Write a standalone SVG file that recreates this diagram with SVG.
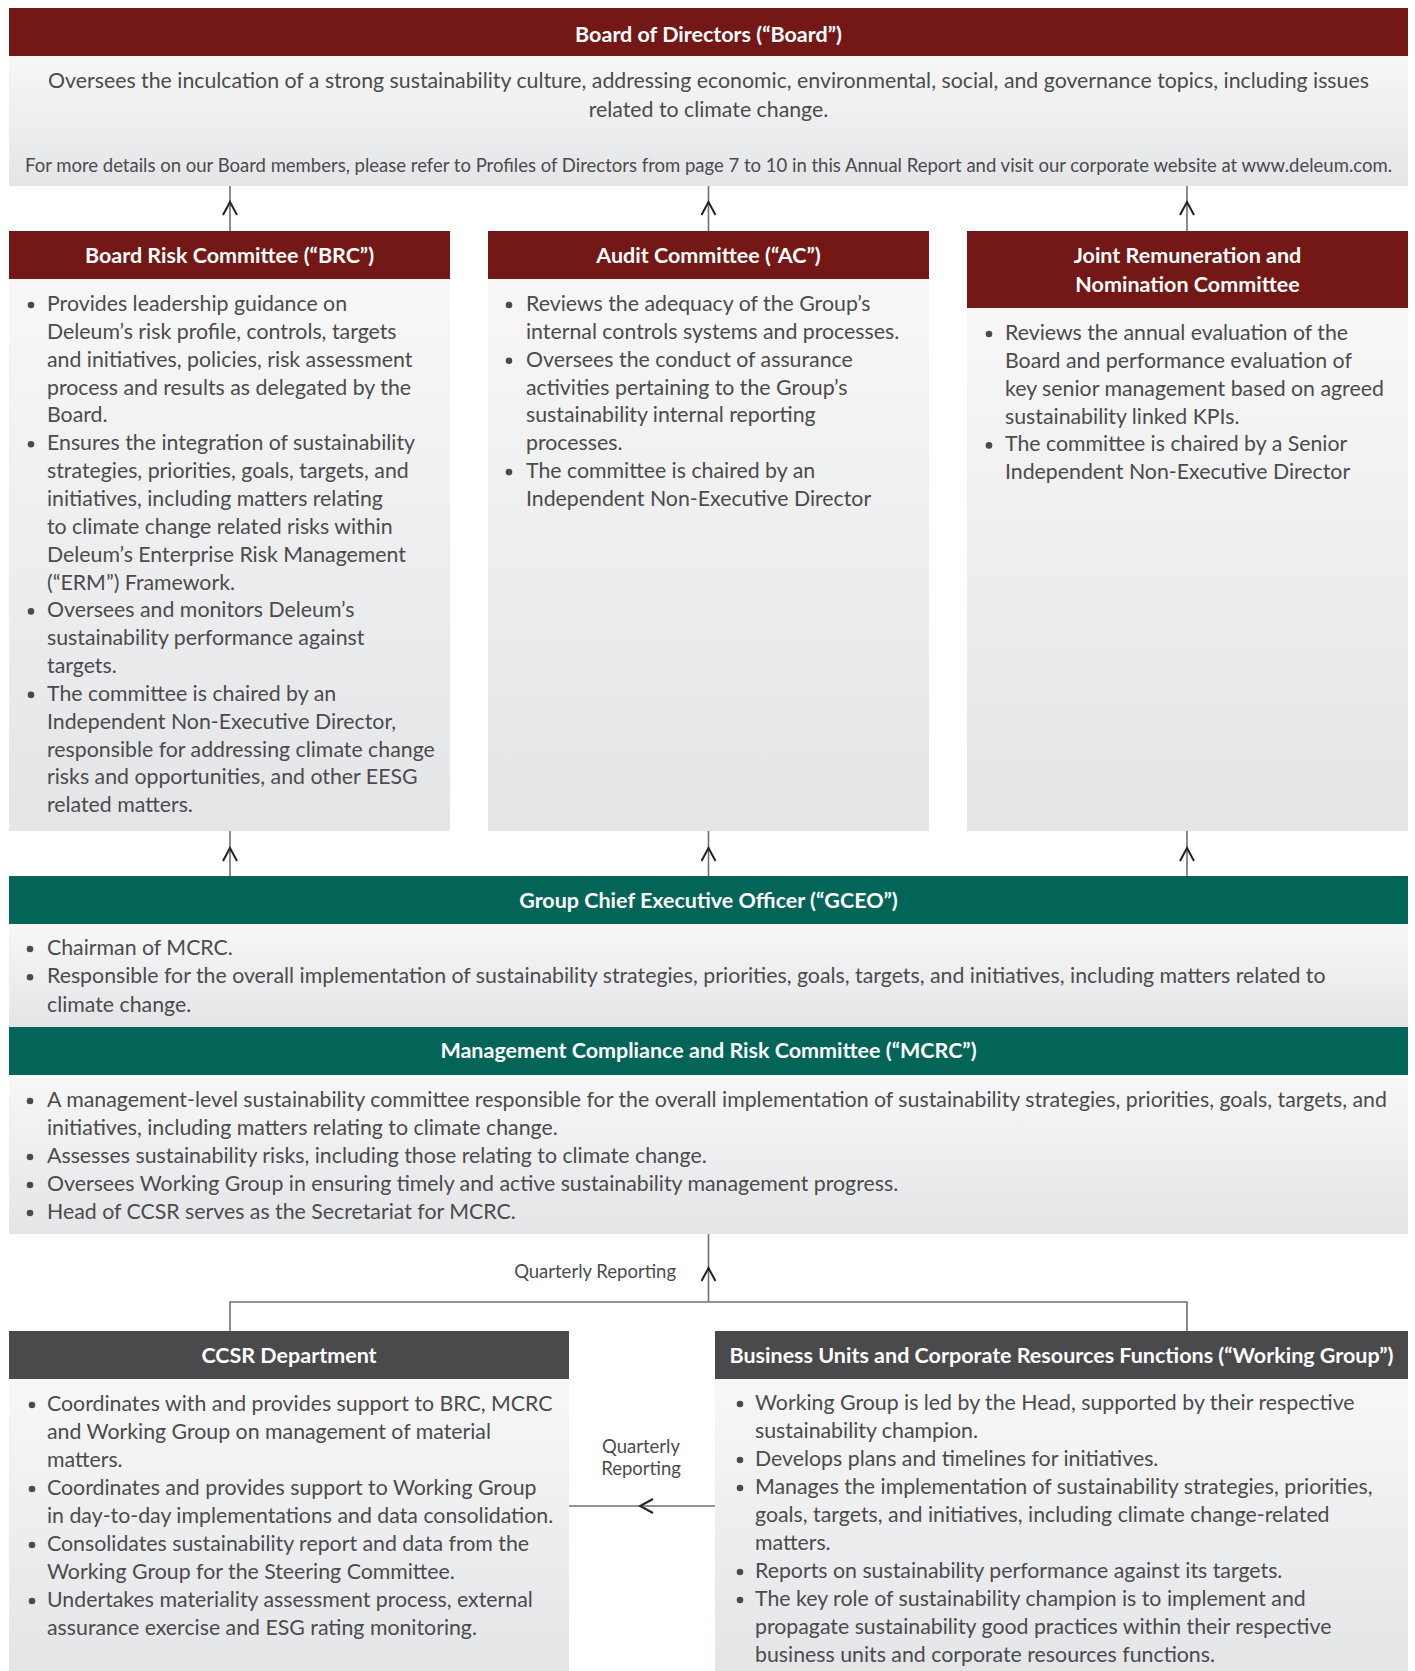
<svg xmlns="http://www.w3.org/2000/svg" width="1415" height="1671" viewBox="0 0 1415 1671">
<defs>
<linearGradient id="bg" x1="0" y1="0" x2="0" y2="1">
<stop offset="0" stop-color="#f7f7f7"/>
<stop offset="1" stop-color="#e4e5e7"/>
</linearGradient>
<marker id="chev" viewBox="-16 -8 18 16" markerWidth="18" markerHeight="16" refX="-6" refY="0" orient="auto" markerUnits="userSpaceOnUse">
<path d="M-13,-7 L0,0 L-13,7" fill="none" stroke="#222" stroke-width="2"/>
</marker>
</defs>
<style>
.body{fill:url(#bg)}
.red{fill:#731816}
.teal{fill:#036458}
.dark{fill:#4a4a4c}
.h{font-family:Lato,"Noto Sans",sans-serif;font-weight:bold;font-size:21.5px;fill:#fff;text-anchor:middle}
.t{font-family:Lato,"Noto Sans",sans-serif;font-size:21.3px;fill:#4b4b4d}
.s{font-family:Lato,"Noto Sans",sans-serif;font-size:18.5px;fill:#4b4b4d}
.c{text-anchor:middle}
.b{fill:#4b4b4d}
.ln{fill:none;stroke:#707070;stroke-width:1.6}
</style>
<rect width="1415" height="1671" fill="#fff"/>

<g id="connectors">
<path class="ln" d="M230,231 L230,208 L230,186" marker-mid="url(#chev)"/>
<path class="ln" d="M708.5,231 L708.5,208 L708.5,186" marker-mid="url(#chev)"/>
<path class="ln" d="M1187,231 L1187,208 L1187,186" marker-mid="url(#chev)"/>
<path class="ln" d="M230,876 L230,854 L230,831" marker-mid="url(#chev)"/>
<path class="ln" d="M708.5,876 L708.5,854 L708.5,831" marker-mid="url(#chev)"/>
<path class="ln" d="M1187,876 L1187,854 L1187,831" marker-mid="url(#chev)"/>
<path class="ln" d="M230,1331 L230,1302 L1187,1302 L1187,1331"/>
<path class="ln" d="M708.5,1302 L708.5,1274 L708.5,1234" marker-mid="url(#chev)"/>
<path class="ln" d="M715,1506 L646,1506 L569,1506" marker-mid="url(#chev)"/>
<text class="s" x="676" y="1278" text-anchor="end">Quarterly Reporting</text>
<text class="s c" x="641" y="1453">Quarterly</text>
<text class="s c" x="641" y="1475">Reporting</text>
</g>

<g id="board">
<rect class="red" x="9" y="8" width="1399" height="48"/>
<rect class="body" x="9" y="56" width="1399" height="130"/>
<text class="h" x="708.5" y="42">Board of Directors (“Board”)</text>
<text class="t c" x="708.5" y="88">Oversees the inculcation of a strong sustainability culture, addressing economic, environmental, social, and governance topics, including issues</text>
<text class="t c" x="708.5" y="117">related to climate change.</text>
<text class="s c" x="708.5" y="172">For more details on our Board members, please refer to Profiles of Directors from page 7 to 10 in this Annual Report and visit our corporate website at www.deleum.com.</text>
</g>

<g id="brc">
<rect class="red" x="9" y="231" width="441" height="48"/>
<rect class="body" x="9" y="279" width="441" height="552"/>
<text class="h" x="229.5" y="263">Board Risk Committee (“BRC”)</text>
<g class="b">
<circle cx="31" cy="305" r="3.3"/><circle cx="31" cy="444.3" r="3.3"/><circle cx="31" cy="611.4" r="3.3"/><circle cx="31" cy="694.9" r="3.3"/>
</g>
<text class="t">
<tspan x="47" y="311">Provides leadership guidance on</tspan>
<tspan x="47" dy="27.85">Deleum’s risk profile, controls, targets</tspan>
<tspan x="47" dy="27.85">and initiatives, policies, risk assessment</tspan>
<tspan x="47" dy="27.85">process and results as delegated by the</tspan>
<tspan x="47" dy="27.85">Board.</tspan>
<tspan x="47" dy="27.85">Ensures the integration of sustainability</tspan>
<tspan x="47" dy="27.85">strategies, priorities, goals, targets, and</tspan>
<tspan x="47" dy="27.85">initiatives, including matters relating</tspan>
<tspan x="47" dy="27.85">to climate change related risks within</tspan>
<tspan x="47" dy="27.85">Deleum’s Enterprise Risk Management</tspan>
<tspan x="47" dy="27.85">(“ERM”) Framework.</tspan>
<tspan x="47" dy="27.85">Oversees and monitors Deleum’s</tspan>
<tspan x="47" dy="27.85">sustainability performance against</tspan>
<tspan x="47" dy="27.85">targets.</tspan>
<tspan x="47" dy="27.85">The committee is chaired by an</tspan>
<tspan x="47" dy="27.85">Independent Non-Executive Director,</tspan>
<tspan x="47" dy="27.85">responsible for addressing climate change</tspan>
<tspan x="47" dy="27.85">risks and opportunities, and other EESG</tspan>
<tspan x="47" dy="27.85">related matters.</tspan>
</text>
</g>

<g id="ac">
<rect class="red" x="488" y="231" width="441" height="48"/>
<rect class="body" x="488" y="279" width="441" height="552"/>
<text class="h" x="708.5" y="263">Audit Committee (“AC”)</text>
<g class="b">
<circle cx="509" cy="305" r="3.3"/><circle cx="509" cy="360.7" r="3.3"/><circle cx="509" cy="472.1" r="3.3"/>
</g>
<text class="t">
<tspan x="526" y="311">Reviews the adequacy of the Group’s</tspan>
<tspan x="526" dy="27.85">internal controls systems and processes.</tspan>
<tspan x="526" dy="27.85">Oversees the conduct of assurance</tspan>
<tspan x="526" dy="27.85">activities pertaining to the Group’s</tspan>
<tspan x="526" dy="27.85">sustainability internal reporting</tspan>
<tspan x="526" dy="27.85">processes.</tspan>
<tspan x="526" dy="27.85">The committee is chaired by an</tspan>
<tspan x="526" dy="27.85">Independent Non-Executive Director</tspan>
</text>
</g>

<g id="jrnc">
<rect class="red" x="967" y="231" width="441" height="77"/>
<rect class="body" x="967" y="308" width="441" height="523"/>
<text class="h" x="1187.5" y="263">Joint Remuneration and</text>
<text class="h" x="1187.5" y="292">Nomination Committee</text>
<g class="b">
<circle cx="989" cy="334" r="3.3"/><circle cx="989" cy="445.4" r="3.3"/>
</g>
<text class="t">
<tspan x="1005" y="340">Reviews the annual evaluation of the</tspan>
<tspan x="1005" dy="27.85">Board and performance evaluation of</tspan>
<tspan x="1005" dy="27.85">key senior management based on agreed</tspan>
<tspan x="1005" dy="27.85">sustainability linked KPIs.</tspan>
<tspan x="1005" dy="27.85">The committee is chaired by a Senior</tspan>
<tspan x="1005" dy="27.85">Independent Non-Executive Director</tspan>
</text>
</g>

<g id="gceo">
<rect class="teal" x="9" y="876" width="1399" height="48"/>
<rect class="body" x="9" y="924" width="1399" height="103"/>
<text class="h" x="708.5" y="908">Group Chief Executive Officer (“GCEO”)</text>
<g class="b">
<circle cx="30" cy="949" r="3.3"/><circle cx="30" cy="977.3" r="3.3"/>
</g>
<text class="t">
<tspan x="47" y="955">Chairman of MCRC.</tspan>
<tspan x="47" dy="28.3">Responsible for the overall implementation of sustainability strategies, priorities, goals, targets, and initiatives, including matters related to</tspan>
<tspan x="47" dy="28.3">climate change.</tspan>
</text>
</g>

<g id="mcrc">
<rect class="teal" x="9" y="1027" width="1399" height="48"/>
<rect class="body" x="9" y="1075" width="1399" height="159"/>
<text class="h" x="708.5" y="1058">Management Compliance and Risk Committee (“MCRC”)</text>
<g class="b">
<circle cx="30" cy="1101" r="3.3"/><circle cx="30" cy="1157" r="3.3"/><circle cx="30" cy="1185" r="3.3"/><circle cx="30" cy="1213" r="3.3"/>
</g>
<text class="t">
<tspan x="47" y="1107">A management-level sustainability committee responsible for the overall implementation of sustainability strategies, priorities, goals, targets, and</tspan>
<tspan x="47" dy="28">initiatives, including matters relating to climate change.</tspan>
<tspan x="47" dy="28">Assesses sustainability risks, including those relating to climate change.</tspan>
<tspan x="47" dy="28">Oversees Working Group in ensuring timely and active sustainability management progress.</tspan>
<tspan x="47" dy="28">Head of CCSR serves as the Secretariat for MCRC.</tspan>
</text>
</g>

<g id="ccsr">
<rect class="dark" x="9" y="1331" width="560" height="48"/>
<rect class="body" x="9" y="1379" width="560" height="292"/>
<text class="h" x="289" y="1363">CCSR Department</text>
<g class="b">
<circle cx="32" cy="1405" r="3.3"/><circle cx="32" cy="1489" r="3.3"/><circle cx="32" cy="1545" r="3.3"/><circle cx="32" cy="1601" r="3.3"/>
</g>
<text class="t">
<tspan x="47" y="1411">Coordinates with and provides support to BRC, MCRC</tspan>
<tspan x="47" dy="28">and Working Group on management of material</tspan>
<tspan x="47" dy="28">matters.</tspan>
<tspan x="47" dy="28">Coordinates and provides support to Working Group</tspan>
<tspan x="47" dy="28">in day-to-day implementations and data consolidation.</tspan>
<tspan x="47" dy="28">Consolidates sustainability report and data from the</tspan>
<tspan x="47" dy="28">Working Group for the Steering Committee.</tspan>
<tspan x="47" dy="28">Undertakes materiality assessment process, external</tspan>
<tspan x="47" dy="28">assurance exercise and ESG rating monitoring.</tspan>
</text>
</g>

<g id="wg">
<rect class="dark" x="715" y="1331" width="693" height="48"/>
<rect class="body" x="715" y="1379" width="693" height="292"/>
<text class="h" x="1061.5" y="1363">Business Units and Corporate Resources Functions (“Working Group”)</text>
<g class="b">
<circle cx="740" cy="1404" r="3.3"/><circle cx="740" cy="1460" r="3.3"/><circle cx="740" cy="1488" r="3.3"/><circle cx="740" cy="1572" r="3.3"/><circle cx="740" cy="1600" r="3.3"/>
</g>
<text class="t">
<tspan x="755" y="1410">Working Group is led by the Head, supported by their respective</tspan>
<tspan x="755" dy="28">sustainability champion.</tspan>
<tspan x="755" dy="28">Develops plans and timelines for initiatives.</tspan>
<tspan x="755" dy="28">Manages the implementation of sustainability strategies, priorities,</tspan>
<tspan x="755" dy="28">goals, targets, and initiatives, including climate change-related</tspan>
<tspan x="755" dy="28">matters.</tspan>
<tspan x="755" dy="28">Reports on sustainability performance against its targets.</tspan>
<tspan x="755" dy="28">The key role of sustainability champion is to implement and</tspan>
<tspan x="755" dy="28">propagate sustainability good practices within their respective</tspan>
<tspan x="755" dy="28">business units and corporate resources functions.</tspan>
</text>
</g>
</svg>
